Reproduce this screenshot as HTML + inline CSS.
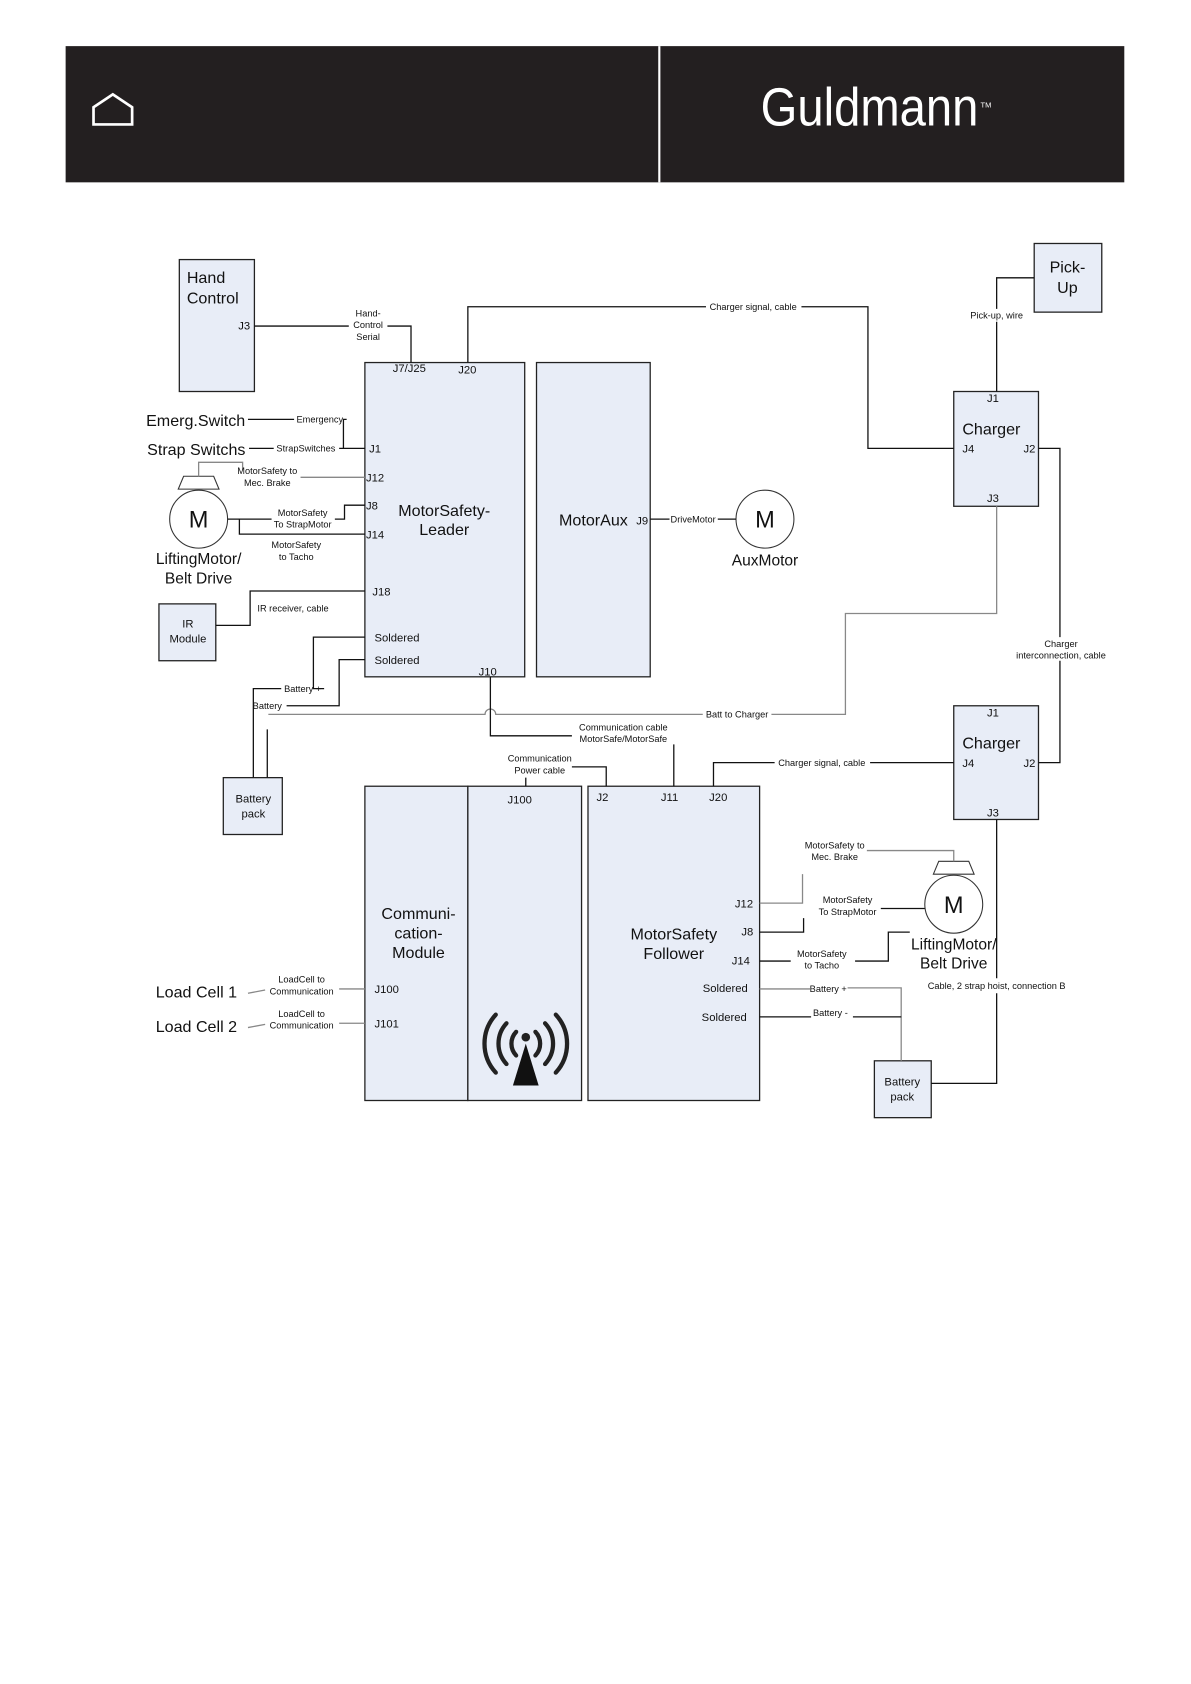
<!DOCTYPE html>
<html><head><meta charset="utf-8"><style>
html,body{margin:0;padding:0;background:#fff}
svg{display:block}
text{font-family:"Liberation Sans",sans-serif;fill:#111}
.b{fill:#e8edf7;stroke:#222;stroke-width:1.2}
.l{fill:none;stroke:#111;stroke-width:1.2}
.g{fill:none;stroke:#888;stroke-width:1.2}
.t16{font-size:15px}
.t11{font-size:10.5px}
.t9{font-size:8.6px}
</style></head><body>
<svg width="1191" height="1684" viewBox="0 0 1110 1570" xmlns="http://www.w3.org/2000/svg">
<rect x="0" y="0" width="1110" height="1570" fill="#fff"/>
<rect x="61" y="43" width="987" height="127" fill="#231f20"/>
<rect x="613.5" y="43" width="2" height="127" fill="#fff"/>
<path d="M87 116 L87 100 L105 88 L123 100 L123 116 Z" fill="none" stroke="#fff" stroke-width="2.5"/>
<text x="709" y="117" style="font-family:'Liberation Sans Narrow','Liberation Sans',sans-serif;font-size:50px;fill:#fff" textLength="203" lengthAdjust="spacingAndGlyphs">Guldmann</text>
<text x="914" y="100" style="font-size:7px;fill:#fff">TM</text>

<rect class="b" x="167" y="242" width="70" height="123"/>
<rect class="b" x="964" y="227" width="63" height="64"/>
<rect class="b" x="340" y="338" width="149" height="293"/>
<rect class="b" x="500" y="338" width="106" height="293"/>
<rect class="b" x="889" y="365" width="79" height="107"/>
<rect class="b" x="148" y="563" width="53" height="53"/>
<rect class="b" x="208" y="725" width="55" height="53"/>
<rect class="b" x="889" y="658" width="79" height="106"/>
<rect class="b" x="340" y="733" width="96" height="293"/>
<rect class="b" x="436" y="733" width="106" height="293"/>
<rect class="b" x="548" y="733" width="160" height="293"/>
<rect class="b" x="815" y="989" width="53" height="53"/>

<circle cx="185" cy="484" r="27" fill="#fff" stroke="#333"/>
<circle cx="713" cy="484" r="27" fill="#fff" stroke="#333"/>
<circle cx="889" cy="843" r="27" fill="#fff" stroke="#333"/>
<path d="M166 456 L171 444 L199 444 L204 456 Z" fill="#fff" stroke="#333"/>
<path d="M870 815 L875 803 L903 803 L908 815 Z" fill="#fff" stroke="#333"/>

<path class="l" d="M237 304 H325 M361 304 H383 V338"/>
<path class="l" d="M436 338 V286 H658 M747 286 H809 V418 H889"/>
<path class="l" d="M964 259 H929 V288 M929 300 V365"/>
<path class="l" d="M968 418 H988 V594 M988 616 V711 H968"/>
<path class="g" d="M929 472 V572 H788 V666 H719 M655 666 H462 A5 5 0 0 0 452 666 H250"/>
<path class="l" d="M249 680 V725"/>
<path class="l" d="M340 594 H292 V642 H302 M262 642 H236 V725"/>
<path class="l" d="M340 615 H316 V658 H267"/>
<path class="l" d="M457 631 V686 H533"/>
<path class="l" d="M628 694 V733"/>
<path class="l" d="M490 733 V725 M533 715 H565 V733"/>
<path class="l" d="M665 733 V711 H722 M811 711 H889"/>
<path class="l" d="M929 764 V912 M929 926 V1010 H868"/>
<path class="l" d="M231 391 H274 M323 391 H320 V418 M232 418 H255 M316 418 H340"/>
<path class="g" d="M185 444 V431 H226 V438"/>
<path class="g" d="M280 445 H340"/>
<path class="l" d="M340 471 H321 V484 H312"/>
<path class="l" d="M212 484 H253"/>
<path class="l" d="M223 484 V498 H340"/>
<path class="l" d="M340 551 H233 V583 H201"/>
<path class="l" d="M606 484 H624 M669 484 H686"/>
<path class="g" d="M231 926 L247 923 M316 922 H340"/>
<path class="g" d="M231 958 L247 955 M316 954 H340"/>
<path class="g" d="M708 842 H748 V815 M808 793 H889 V803"/>
<path class="l" d="M708 869 H749 V856 M821 847 H862"/>
<path class="l" d="M708 896 H737 M797 896 H828 V869 H848"/>
<path class="g" d="M708 922 H755 M790 921 H840 V989"/>
<path class="l" d="M708 948 H756 M795 948 H840"/>

<text class="t16" x="174" y="264">Hand</text>
<text class="t16" x="174" y="283">Control</text>
<text class="t16" x="995" y="254" text-anchor="middle">Pick-</text>
<text class="t16" x="995" y="273" text-anchor="middle">Up</text>
<text class="t16" x="414" y="481" text-anchor="middle">MotorSafety-</text>
<text class="t16" x="414" y="499" text-anchor="middle">Leader</text>
<text class="t16" x="521" y="490">MotorAux</text>
<text class="t16" x="897" y="405">Charger</text>
<text class="t16" x="897" y="698">Charger</text>
<text class="t16" x="390" y="857" text-anchor="middle">Communi-</text>
<text class="t16" x="390" y="875" text-anchor="middle">cation-</text>
<text class="t16" x="390" y="893" text-anchor="middle">Module</text>
<text class="t16" x="628" y="876" text-anchor="middle">MotorSafety</text>
<text class="t16" x="628" y="894" text-anchor="middle">Follower</text>
<text class="t16" x="136" y="397">Emerg.Switch</text>
<text class="t16" x="137" y="424">Strap Switchs</text>
<text class="t16" x="145" y="930">Load Cell 1</text>
<text class="t16" x="145" y="962">Load Cell 2</text>
<text style="font-size:22px" x="185" y="492" text-anchor="middle">M</text>
<text style="font-size:22px" x="713" y="492" text-anchor="middle">M</text>
<text style="font-size:22px" x="889" y="851" text-anchor="middle">M</text>
<text x="185" y="526" text-anchor="middle" style="font-size:14.5px">LiftingMotor/</text>
<text x="185" y="544" text-anchor="middle" style="font-size:14.5px">Belt Drive</text>
<text x="713" y="527" text-anchor="middle" style="font-size:14.5px">AuxMotor</text>
<text x="889" y="885" text-anchor="middle" style="font-size:14.5px">LiftingMotor/</text>
<text x="889" y="903" text-anchor="middle" style="font-size:14.5px">Belt Drive</text>
<text class="t11" x="175" y="585" text-anchor="middle">IR</text>
<text class="t11" x="175" y="599" text-anchor="middle">Module</text>
<text class="t11" x="236" y="748" text-anchor="middle">Battery</text>
<text class="t11" x="236" y="762" text-anchor="middle">pack</text>
<text class="t11" x="841" y="1012" text-anchor="middle">Battery</text>
<text class="t11" x="841" y="1026" text-anchor="middle">pack</text>

<g class="t11">
<text x="222" y="307">J3</text>
<text x="366" y="347">J7/J25</text>
<text x="427" y="348">J20</text>
<text x="344" y="422">J1</text>
<text x="341" y="449">J12</text>
<text x="341" y="475">J8</text>
<text x="341" y="502">J14</text>
<text x="347" y="555">J18</text>
<text x="349" y="598">Soldered</text>
<text x="349" y="619">Soldered</text>
<text x="446" y="630">J10</text>
<text x="593" y="489">J9</text>
<text x="920" y="375">J1</text>
<text x="897" y="422">J4</text>
<text x="954" y="422">J2</text>
<text x="920" y="468">J3</text>
<text x="920" y="668">J1</text>
<text x="897" y="715">J4</text>
<text x="954" y="715">J2</text>
<text x="920" y="761">J3</text>
<text x="473" y="749">J100</text>
<text x="556" y="747">J2</text>
<text x="616" y="747">J11</text>
<text x="661" y="747">J20</text>
<text x="685" y="846">J12</text>
<text x="691" y="872">J8</text>
<text x="682" y="899">J14</text>
<text x="655" y="925">Soldered</text>
<text x="654" y="952">Soldered</text>
<text x="349" y="926">J100</text>
<text x="349" y="958">J101</text>
</g>

<g class="t9" text-anchor="middle">
<text x="343" y="295">Hand-</text>
<text x="343" y="306">Control</text>
<text x="343" y="317">Serial</text>
<text x="702" y="289">Charger signal, cable</text>
<text x="929" y="297">Pick-up, wire</text>
<text x="989" y="603">Charger</text>
<text x="989" y="614">interconnection, cable</text>
<text x="687" y="669">Batt to Charger</text>
<text x="298" y="394">Emergency</text>
<text x="285" y="421">StrapSwitches</text>
<text x="249" y="442">MotorSafety to</text>
<text x="249" y="453">Mec. Brake</text>
<text x="282" y="481">MotorSafety</text>
<text x="282" y="492">To StrapMotor</text>
<text x="276" y="511">MotorSafety</text>
<text x="276" y="522">to Tacho</text>
<text x="273" y="570">IR receiver, cable</text>
<text x="646" y="487">DriveMotor</text>
<text x="282" y="645">Battery +</text>
<text x="249" y="661">Battery</text>
<text x="581" y="681">Communication cable</text>
<text x="581" y="692">MotorSafe/MotorSafe</text>
<text x="503" y="710">Communication</text>
<text x="503" y="721">Power cable</text>
<text x="766" y="714">Charger signal, cable</text>
<text x="778" y="791">MotorSafety to</text>
<text x="778" y="802">Mec. Brake</text>
<text x="790" y="842">MotorSafety</text>
<text x="790" y="853">To StrapMotor</text>
<text x="766" y="892">MotorSafety</text>
<text x="766" y="903">to Tacho</text>
<text x="772" y="925">Battery +</text>
<text x="774" y="947">Battery -</text>
<text x="929" y="922">Cable, 2 strap hoist, connection B</text>
<text x="281" y="916">LoadCell to</text>
<text x="281" y="927">Communication</text>
<text x="281" y="948">LoadCell to</text>
<text x="281" y="959">Communication</text>
</g>

<g fill="none" stroke="#222" stroke-width="4" stroke-linecap="round">
<path d="M462 946 A40 40 0 0 0 462 1000"/>
<path d="M472 954 A28 28 0 0 0 472 992"/>
<path d="M481 962 A16 16 0 0 0 481 984"/>
<path d="M518 946 A40 40 0 0 1 518 1000"/>
<path d="M508 954 A28 28 0 0 1 508 992"/>
<path d="M499 962 A16 16 0 0 1 499 984"/>
</g>
<circle cx="490" cy="967" r="4" fill="#222"/>
<path d="M490 973 L478 1012 L502 1012 Z" fill="#111"/>
</svg>
</body></html>
